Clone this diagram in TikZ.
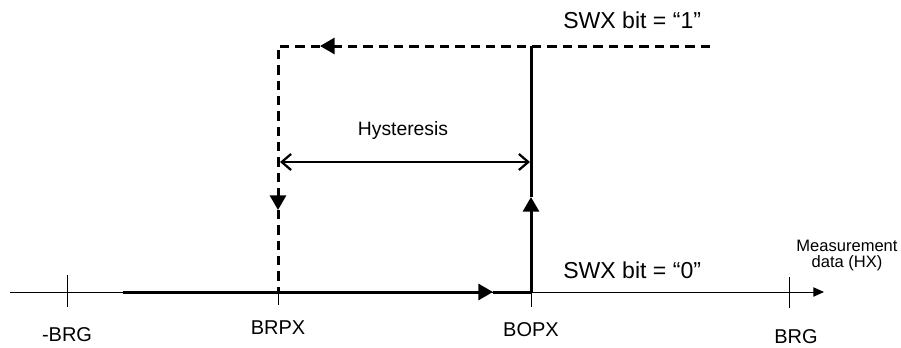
\documentclass[tikz,border=0pt]{standalone}
\usepackage{fontspec}
\setmainfont{Liberation Sans}
\usetikzlibrary{arrows.meta}
\tikzstyle{flowarrow} = [line width=2.25pt,-{Triangle[length=11pt,width=12pt]}]

\begin{document}
\begin{tikzpicture}[x=0.75pt,y=-0.75pt,
axisline/.style={line width=0.75pt},
flowline/.style={line width=2.25pt},
dashline/.style={line width=2.25pt, dash pattern=on 7pt off 4.5pt},
botlabel/.style={anchor=base, inner sep=0pt, font=\fontsize{15}{18}\selectfont},
bitlabel/.style={anchor=base west, inner sep=0pt, font=\fontsize{17.3}{20}\selectfont},]
\useasboundingbox (0,0) rectangle (901,347);
%Coordinates
\coordinate (axisL)   at (10,292);
\coordinate (axisR)   at (824,292);
\coordinate (nbrg)    at (67,292);
\coordinate (brpx)    at (278,292);
\coordinate (bopx)    at (531,292);
\coordinate (brg)     at (789,292);
\coordinate (start)   at (123,292);
\coordinate (fwd)     at (493,292);
\coordinate (up)      at (531,197);
\coordinate (topR)    at (531,46);
\coordinate (topL)    at (278,46);
\coordinate (back)    at (320,46);
\coordinate (dashEnd) at (710,46);
\coordinate (preDown) at (278,195);
\coordinate (down)    at (278,210);
\coordinate (hysL)    at (280,162);
\coordinate (hysR)    at (530,162);

%Nodes
\node[botlabel] (lnbrg) at (67,341)  {-BRG};
\node[botlabel] (lbrpx) at (278,334) {BRPX};
\node[botlabel] (lbopx) at (531,336) {BOPX};
\node[botlabel] (lbrg)  at (796,343) {BRG};
\node[bitlabel] (bitone)  at (563,28)  {SWX bit = “1”};
\node[bitlabel] (bitzero) at (563,278) {SWX bit = “0”};
\node[anchor=base, inner sep=0pt, font=\fontsize{14.5}{17}\selectfont] (hys) at (403,135) {Hysteresis};
\node[anchor=base, inner sep=0pt, align=center, font=\fontsize{12.4}{12}\selectfont] (meas) at (847,267) {Measurement\\data (HX)};

%Lines
\draw[axisline,-{Triangle[length=8pt,width=7pt]}] (axisL) -- (axisR);
\draw[axisline] (nbrg) ++(0,-17) -- ++(0,32);
\draw[axisline] (brpx) -- ++(0,13);
\draw[axisline] (bopx) -- ++(0,15);
\draw[axisline] (brg) ++(0,-15) -- ++(0,31);

\draw[flowarrow] (start) -- (fwd);
\draw[flowline] (fwd) -- (bopx);
\draw[flowarrow] (bopx) -- (up);
\draw[flowline] (up) -- (topR);

\draw[dashline,-{Triangle[length=11pt,width=12pt]}] (dashEnd) -- (back);
\draw[dashline] (back) -- (topL) -- (preDown);
\draw[flowarrow] (preDown) -- (down);
\draw[dashline] (down) -- (brpx);

\draw[line width=1.7pt,{Straight Barb[length=7pt,width=12pt]}-{Straight Barb[length=7pt,width=12pt]}] (hysL) -- (hysR);
\end{tikzpicture}
\end{document}
